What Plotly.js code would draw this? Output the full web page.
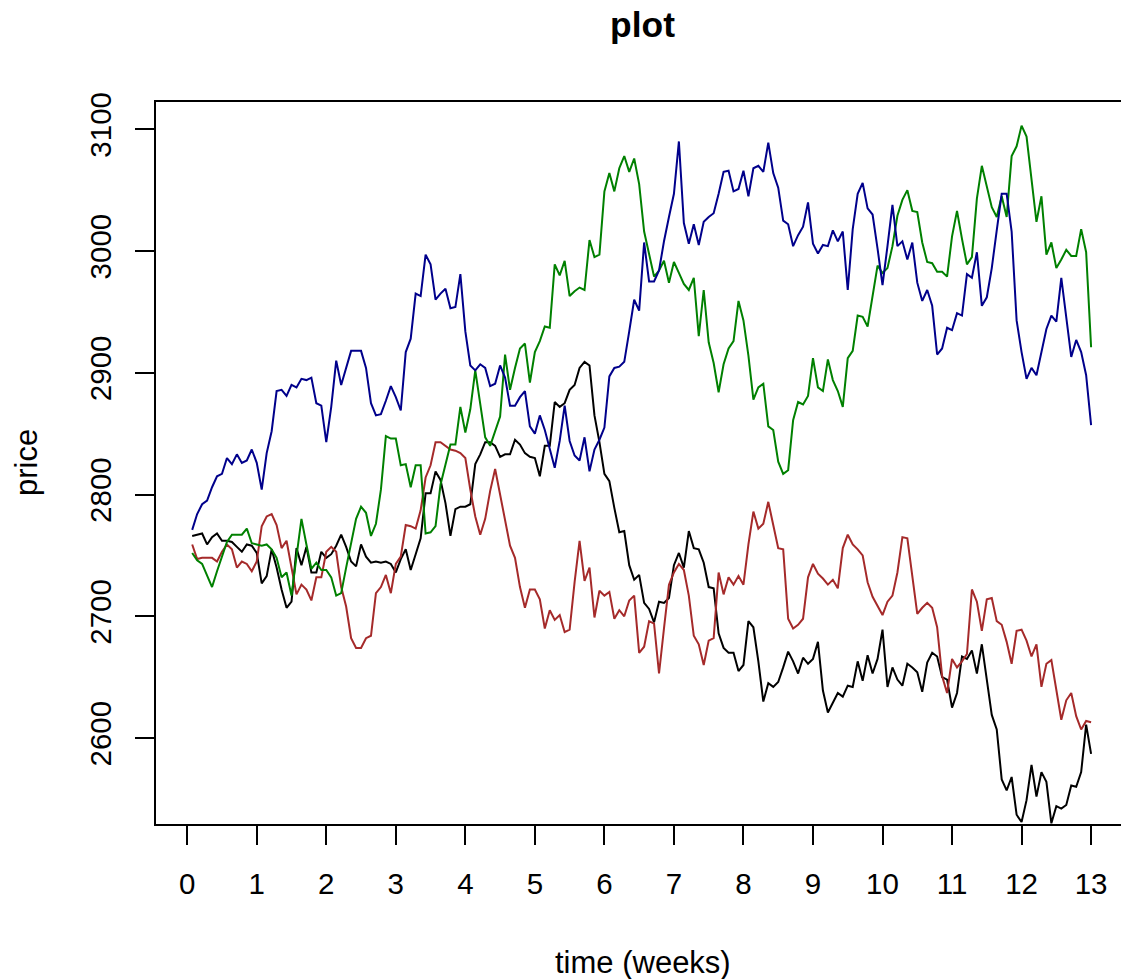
<!DOCTYPE html>
<html>
<head>
<meta charset="utf-8">
<script src="https://cdn.plot.ly/plotly-3.0.1.min.js"></script>
<style>html,body{margin:0;padding:0;background:#fff;}#chart{width:1121px;height:979px;}</style>
</head>
<body>
<div id="chart"></div>
<script>
// Half-day steps: 14 observations per week, weeks 1/14 .. 13
var stepsPerWeek = 14;
var nObs = 182;

var black = [2766,2767,2768,2759,2765,2768,2762,2762,2761,2757,
2753,2759,2758,2752,2727,2733,2755,2740,2722,2707,
2712,2756,2742,2757,2736,2736,2753,2748,2751,2758,
2767,2757,2745,2741,2759,2749,2744,2745,2744,2745,
2743,2736,2747,2755,2738,2751,2764,2801,2801,2819,
2812,2793,2766,2788,2790,2790,2792,2825,2833,2843,
2843,2840,2831,2833,2833,2845,2841,2834,2831,2830,
2815,2840,2840,2876,2872,2875,2886,2890,2904,2909,
2906,2865,2843,2817,2811,2789,2769,2770,2742,2730,
2734,2711,2706,2695,2712,2711,2715,2742,2752,2740,
2770,2756,2755,2744,2724,2723,2686,2674,2670,2670,
2655,2660,2696,2691,2663,2630,2645,2642,2646,2658,
2671,2663,2653,2666,2661,2665,2679,2639,2621,2629,
2637,2634,2643,2642,2663,2647,2668,2653,2665,2689,
2642,2658,2648,2643,2661,2658,2654,2638,2662,2670,
2667,2650,2648,2625,2637,2667,2665,2672,2653,2677,
2648,2619,2607,2566,2557,2568,2537,2531,2549,2578,
2552,2572,2564,2530,2544,2542,2545,2561,2560,2572,
2611,2587];

var brown = [2759,2747,2748,2748,2748,2745,2753,2759,2755,2740,
2745,2743,2737,2745,2774,2782,2784,2775,2756,2762,
2740,2718,2726,2722,2713,2732,2732,2753,2757,2753,
2724,2708,2682,2674,2674,2682,2684,2719,2724,2734,
2719,2743,2749,2775,2774,2772,2787,2814,2824,2843,
2843,2840,2837,2836,2834,2830,2804,2782,2767,2780,
2803,2821,2799,2777,2758,2748,2724,2707,2722,2722,
2714,2690,2705,2697,2701,2687,2689,2728,2762,2729,
2740,2699,2721,2717,2720,2698,2705,2700,2713,2717,
2670,2675,2696,2694,2653,2690,2726,2736,2743,2738,
2717,2684,2677,2660,2680,2682,2736,2718,2732,2726,
2733,2726,2759,2786,2772,2776,2794,2775,2756,2755,
2698,2690,2693,2698,2732,2743,2735,2731,2726,2730,
2723,2756,2767,2759,2755,2750,2728,2716,2709,2701,
2712,2717,2736,2765,2764,2734,2702,2707,2711,2707,
2691,2651,2637,2665,2658,2663,2669,2722,2712,2688,
2714,2715,2696,2693,2679,2661,2688,2689,2680,2667,
2677,2642,2661,2664,2640,2615,2631,2637,2618,2607,
2614,2613];

var green = [2752,2746,2743,2733,2724,2737,2750,2761,2767,2767,
2767,2772,2760,2759,2758,2759,2755,2748,2732,2736,
2717,2749,2780,2759,2739,2744,2738,2738,2732,2717,
2719,2740,2759,2780,2790,2785,2766,2776,2804,2848,
2846,2846,2824,2825,2806,2824,2824,2768,2769,2774,
2808,2824,2841,2841,2872,2851,2870,2902,2875,2847,
2840,2852,2864,2915,2886,2904,2920,2924,2892,2917,
2926,2938,2937,2989,2980,2992,2963,2967,2970,2968,
3009,2995,2997,3049,3064,3049,3068,3078,3065,3076,
3055,3016,2997,2979,2984,2992,2974,2991,2982,2973,
2968,2978,2930,2968,2925,2908,2884,2907,2920,2926,
2959,2943,2914,2878,2888,2891,2856,2853,2827,2817,
2820,2861,2876,2874,2881,2912,2888,2885,2911,2894,
2885,2872,2912,2918,2947,2946,2938,2965,2988,2982,
2986,3004,3029,3042,3050,3033,3032,3007,2991,2990,
2983,2983,2979,3012,3033,3010,2989,2995,3043,3070,
3052,3036,3028,3045,3028,3078,3086,3103,3094,3059,
3024,3045,2997,3007,2986,2993,3001,2996,2996,3018,
2999,2921];

var blue = [2771,2784,2792,2795,2806,2815,2817,2830,2825,2833,
2826,2828,2837,2826,2804,2834,2852,2885,2886,2881,
2890,2888,2895,2894,2896,2875,2873,2843,2872,2910,
2890,2904,2918,2918,2918,2904,2875,2865,2866,2877,
2889,2880,2869,2917,2928,2965,2963,2997,2989,2960,
2965,2969,2953,2954,2981,2934,2906,2902,2907,2904,
2889,2891,2906,2896,2873,2873,2880,2885,2856,2850,
2865,2853,2838,2822,2844,2873,2844,2832,2828,2847,
2819,2837,2845,2855,2897,2904,2905,2909,2934,2960,
2951,3007,2975,2975,2984,3008,3028,3047,3090,3023,
3006,3022,3005,3024,3028,3031,3047,3065,3066,3049,
3051,3066,3045,3068,3070,3065,3089,3064,3052,3025,
3022,3004,3013,3020,3040,3006,2998,3005,3004,3017,
3008,3016,2968,3018,3047,3056,3035,3030,3002,2972,
3004,3038,3004,3008,2993,3007,2974,2959,2968,2955,
2915,2920,2937,2935,2949,2947,2981,2978,2999,2955,
2962,2986,3017,3047,3047,3016,2943,2917,2895,2904,
2898,2917,2936,2947,2942,2978,2946,2913,2927,2917,
2898,2857];

var weekTicks = [0,1,2,3,4,5,6,7,8,9,10,11,12,13];
var priceTicks = [2600,2700,2800,2900,3000,3100];

var time = [];
for (var i = 1; i <= nObs; i++) time.push(i / stepsPerWeek);

var FONT = 'Liberation Sans, Arial, Helvetica, sans-serif';
function tr(y, color) {
  return {x: time, y: y, type: 'scatter', mode: 'lines',
          line: {color: color, width: 2}, hoverinfo: 'skip', showlegend: false};
}
var data = [tr(black, '#000000'), tr(brown, '#A52A2A'), tr(green, '#008000'), tr(blue, '#00008B')];

var layout = {
  width: 1121, height: 979, autosize: false,
  margin: {l: 156, r: 0, t: 102, b: 155, pad: 0},
  paper_bgcolor: '#fff', plot_bgcolor: '#fff',
  font: {family: FONT, color: '#000', size: 29.5},
  title: {text: '<b>plot</b>', font: {family: FONT, size: 35.4, color: '#000'},
          xref: 'container', x: 642.5/1121, xanchor: 'center',
          yref: 'container', y: 1 - 25/979, yanchor: 'middle'},
  xaxis: {range: [-0.449, 13.43], tickmode: 'array', tickvals: weekTicks,
          ticktext: weekTicks.map(String),
          ticks: 'outside', ticklen: 19, tickwidth: 2, tickcolor: '#000',
          showline: true, linewidth: 2, linecolor: '#000', mirror: true,
          showgrid: false, zeroline: false,
          tickfont: {family: FONT, size: 29.5, color: '#000'},
          ticklabelstandoff: 14},
  yaxis: {range: [2529.4, 3122.4], tickmode: 'array', tickvals: priceTicks,
          ticktext: priceTicks.map(String), tickangle: -90,
          ticks: 'outside', ticklen: 19, tickwidth: 2, tickcolor: '#000',
          showline: true, linewidth: 2, linecolor: '#000', mirror: false,
          showgrid: false, zeroline: false,
          tickfont: {family: FONT, size: 29.5, color: '#000'},
          ticklabelstandoff: 12},
  annotations: [
    {text: 'time (weeks)', xref: 'paper', yref: 'paper', x: (642.5-156)/965, y: 0,
     xanchor: 'center', yanchor: 'middle', yshift: -(962-824), showarrow: false,
     font: {family: FONT, size: 31, color: '#000'}},
    {text: 'price', xref: 'paper', yref: 'paper', x: 0, y: 0.5, textangle: -90,
     xanchor: 'center', yanchor: 'middle', xshift: -(156-26), showarrow: false,
     font: {family: FONT, size: 31, color: '#000'}}
  ]
};

Plotly.newPlot('chart', data, layout, {staticPlot: true, displayModeBar: false});
</script>
</body>
</html>
